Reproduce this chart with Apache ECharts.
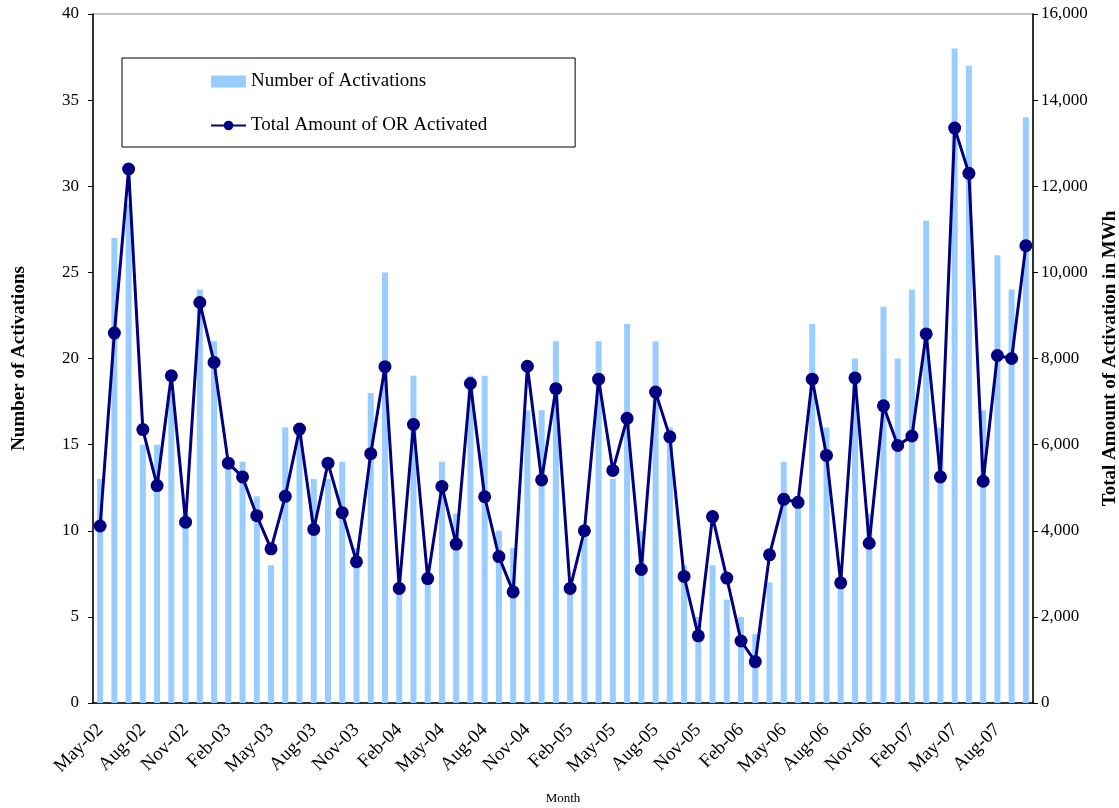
<!DOCTYPE html>
<html>
<head>
<meta charset="utf-8">
<script src="https://cdn.jsdelivr.net/npm/echarts@6/dist/echarts.min.js"></script>
<style>
  html, body { margin: 0; padding: 0; background: #fff; }
  #chart { width: 1119px; height: 808px; }
</style>
</head>
<body>
<div id="chart"></div>
<script>
// months May-02 .. Oct-07
const months = [
  "May-02", "Jun-02", "Jul-02", "Aug-02", "Sep-02", "Oct-02", "Nov-02", "Dec-02",
  "Jan-03", "Feb-03", "Mar-03", "Apr-03", "May-03", "Jun-03", "Jul-03", "Aug-03", "Sep-03", "Oct-03", "Nov-03", "Dec-03",
  "Jan-04", "Feb-04", "Mar-04", "Apr-04", "May-04", "Jun-04", "Jul-04", "Aug-04", "Sep-04", "Oct-04", "Nov-04", "Dec-04",
  "Jan-05", "Feb-05", "Mar-05", "Apr-05", "May-05", "Jun-05", "Jul-05", "Aug-05", "Sep-05", "Oct-05", "Nov-05", "Dec-05",
  "Jan-06", "Feb-06", "Mar-06", "Apr-06", "May-06", "Jun-06", "Jul-06", "Aug-06", "Sep-06", "Oct-06", "Nov-06", "Dec-06",
  "Jan-07", "Feb-07", "Mar-07", "Apr-07", "May-07", "Jun-07", "Jul-07", "Aug-07", "Sep-07", "Oct-07"
];

// number of activations (left axis)
const activations = [
  13, 27, 29, 15, 15, 18, 11, 24, 21, 14,
  14, 12, 8, 16, 16, 13, 13, 14, 9, 18,
  25, 7, 19, 7, 14, 11, 19, 19, 10, 9,
  17, 17, 21, 7, 10, 21, 13, 22, 10, 21,
  16, 8, 5, 8, 6, 5, 4, 7, 14, 12,
  22, 16, 7, 20, 11, 23, 20, 24, 28, 16,
  38, 37, 17, 26, 24, 34
];

// total amount of OR activated, MWh (right axis)
const amountMWh = [
  4110, 8590, 12400, 6350, 5050, 7600, 4200, 9300, 7910, 5570,
  5250, 4350, 3580, 4800, 6360, 4030, 5570, 4420, 3280, 5790,
  7810, 2660, 6470, 2890, 5030, 3690, 7420, 4790, 3400, 2580,
  7820, 5180, 7300, 2660, 4000, 7520, 5400, 6610, 3100, 7220,
  6180, 2940, 1560, 4330, 2900, 1440, 960, 3440, 4730, 4660,
  7520, 5750, 2790, 7550, 3710, 6900, 5980, 6200, 8570, 5250,
  13350, 12300, 5150, 8070, 8000, 10620
];

const serif = "Liberation Serif";

let chart = echarts.init(document.getElementById("chart"));
let option = {
  backgroundColor: "#fff",
  textStyle: { fontFamily: serif, color: "#000" },
  animation: false,
  grid: {
    left: 93,
    right: 86,
    top: 14,
    bottom: 105,
    outerBoundsMode: "none",
    containLabel: false,
    show: true,
    borderColor: "#888",
    borderWidth: 1,
  },
  legend: {
    orient: "vertical",
    left: 122,
    top: 58,
    padding: [14, 88, 12, 88],
    itemGap: 25,
    itemWidth: 35,
    itemHeight: 12,
    borderColor: "#000",
    borderWidth: 1,
    backgroundColor: "#fff",
    textStyle: { fontFamily: serif, fontSize: 19, color: "#000" },
    data: [
      { name: "Number of Activations", icon: "rect" },
      { name: "Total Amount of OR Activated" },
    ],
  },
  xAxis: {
    type: "category",
    data: months,
    boundaryGap: true,
    name: "Month",
    nameLocation: "middle",
    nameGap: 89,
    nameTextStyle: { fontFamily: serif, fontSize: 13, color: "#000" },
    axisLine: { lineStyle: { color: "#000", width: 1.5 } },
    axisTick: { interval: 0, length: 5, lineStyle: { color: "#000" } },
    axisLabel: {
      interval: 2,
      rotate: 45,
      margin: 24,
      fontFamily: serif,
      fontSize: 19,
      color: "#000",
    },
    splitLine: { show: false },
  },
  yAxis: [
    {
      type: "value",
      min: 0,
      max: 40,
      interval: 5,
      name: "Number of Activations",
      nameLocation: "middle",
      nameRotate: 90,
      nameGap: 64,
      nameTextStyle: { fontFamily: serif, fontSize: 19, fontWeight: "bold", color: "#000" },
      axisLine: { show: true, lineStyle: { color: "#000", width: 1.5 } },
      axisTick: { show: true, length: 5, lineStyle: { color: "#000" } },
      axisLabel: { margin: 14, fontFamily: serif, fontSize: 17, color: "#000" },
      splitLine: { show: false },
    },
    {
      type: "value",
      min: 0,
      max: 16000,
      interval: 2000,
      name: "Total Amount of Activation in MWh",
      nameLocation: "middle",
      nameRotate: 90,
      nameGap: 68,
      nameTextStyle: { fontFamily: serif, fontSize: 19, fontWeight: "bold", color: "#000" },
      axisLine: { show: true, lineStyle: { color: "#000", width: 1.5 } },
      axisTick: { show: true, length: 5, lineStyle: { color: "#000" } },
      axisLabel: {
        margin: 8,
        fontFamily: serif,
        fontSize: 17,
        color: "#000",
        formatter: (v) => v.toLocaleString("en-US"),
      },
      splitLine: { show: false },
    },
  ],
  series: [
    {
      name: "Number of Activations",
      type: "bar",
      yAxisIndex: 0,
      barWidth: 6,
      itemStyle: { color: "#99CCFF" },
      data: activations,
    },
    {
      name: "Total Amount of OR Activated",
      type: "line",
      yAxisIndex: 1,
      symbol: "circle",
      symbolSize: 13,
      showAllSymbol: true,
      lineStyle: { color: "#000080", width: 3 },
      itemStyle: { color: "#000080" },
      data: amountMWh,
    },
  ],
};
chart.setOption(option);
</script>
</body>
</html>
